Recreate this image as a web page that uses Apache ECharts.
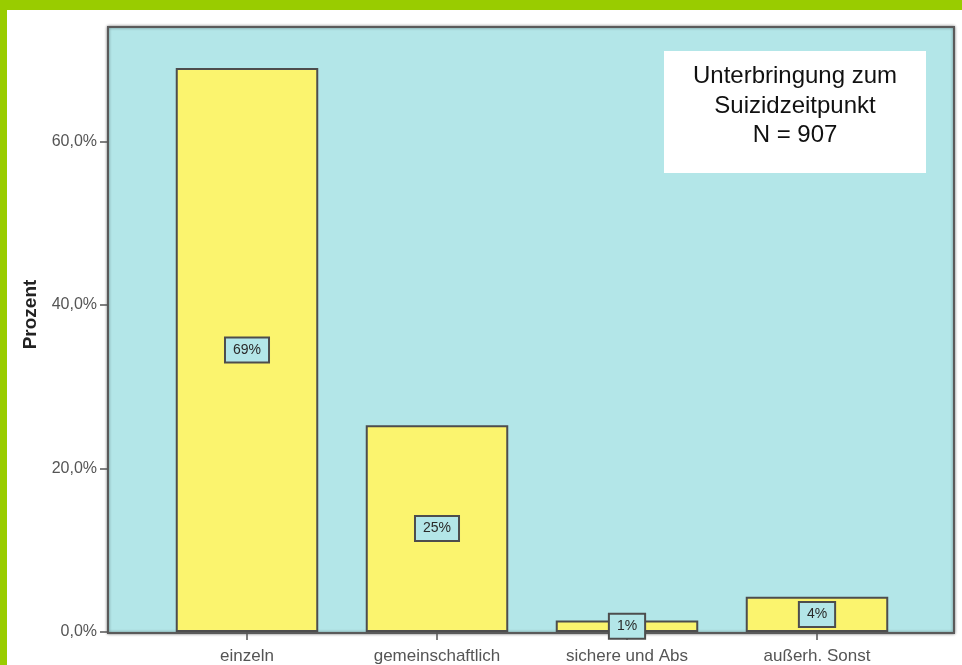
<!DOCTYPE html>
<html>
<head>
<meta charset="utf-8">
<title>Unterbringung zum Suizidzeitpunkt</title>
<script src="https://cdn.jsdelivr.net/npm/echarts@6/dist/echarts.min.js"></script>
<style>
  html, body { margin: 0; padding: 0; background: #ffffff; }
  #wrap { position: relative; width: 962px; height: 665px; overflow: hidden; }
  #chart { position: absolute; left: 0; top: 0; width: 962px; height: 665px; }
  .band { position: absolute; background: #99cc00; }
</style>
</head>
<body>
<div id="wrap">
  <div id="chart"></div>
  <div class="band" style="left:0;top:0;width:962px;height:10px"></div>
  <div class="band" style="left:0;top:0;width:7px;height:665px"></div>
</div>
<script>
// Kategorien der Unterbringung
const categories = ['einzeln', 'gemeinschaftlich', 'sichere und Abs', 'außerh. Sonst'];
// Anteil in Prozent je Kategorie
const percentValues = [69.0, 25.3, 1.4, 4.3];
// Beschriftete Skalenwerte der Prozentachse
const yTicks = [0, 20, 40, 60];
const yMax = 74;
// Legendentext
const infoLines = ['Unterbringung zum', 'Suizidzeitpunkt', 'N = 907'];

const FONT = '"Liberation Sans", Arial, sans-serif';

// Plotrahmen (Hintergrundfläche) in Pixeln
const frame = { x: 108, y: 27, w: 846, h: 606 };

const chart = echarts.init(document.getElementById('chart'), null, { renderer: 'canvas' });

const option = {
  animation: false,
  backgroundColor: '#ffffff',
  grid: { left: 152, right: 50, top: 27, bottom: 32, containLabel: false },
  graphic: [
    {
      type: 'rect',
      z: -10,
      shape: { x: frame.x, y: frame.y, width: frame.w, height: frame.h },
      style: {
        fill: '#b3e6e8',
        stroke: '#5a5a5a',
        lineWidth: 2,
        shadowBlur: 3,
        shadowColor: 'rgba(0,0,0,0.45)'
      }
    },
    {
      type: 'group',
      z: 50,
      children: [
        {
          type: 'rect',
          shape: { x: 664, y: 51, width: 262, height: 122 },
          style: { fill: '#ffffff' }
        },
        {
          type: 'text',
          x: 795,
          y: 106,
          style: {
            text: infoLines.join('\n'),
            font: '24px ' + FONT,
            fill: '#111111',
            align: 'center',
            verticalAlign: 'middle',
            lineHeight: 29.5
          }
        }
      ]
    }
  ],
  xAxis: {
    type: 'category',
    data: categories,
    axisLine: { show: false },
    axisTick: { show: true, alignWithLabel: true, length: 8, lineStyle: { color: '#555', width: 1.5 } },
    axisLabel: { margin: 16, color: '#555', fontSize: 17, fontFamily: FONT },
    splitLine: { show: false }
  },
  yAxis: {
    type: 'value',
    min: 0,
    max: yMax,
    interval: 20,
    offset: 44,
    name: 'Prozent',
    nameLocation: 'middle',
    nameRotate: 90,
    nameGap: 68,
    nameTextStyle: { fontSize: 19, fontWeight: 'bold', color: '#222', fontFamily: FONT, padding: [0, 0, 0, 30] },
    axisLine: { show: false },
    axisTick: { show: true, length: 8, customValues: yTicks, lineStyle: { color: '#555', width: 1.5 } },
    axisLabel: {
      customValues: yTicks,
      margin: 11,
      color: '#555',
      fontSize: 16,
      fontFamily: FONT,
      formatter: v => v.toFixed(1).replace('.', ',') + '%'
    },
    splitLine: { show: false }
  },
  series: [
    {
      type: 'bar',
      data: percentValues,
      barCategoryGap: '25%',
      z: 3,
      itemStyle: {
        color: '#fbf46e',
        borderColor: '#4d4d4d',
        borderWidth: 2
      },
      label: {
        show: true,
        position: 'inside',
        formatter: p => Math.round(p.value) + '%',
        fontSize: 14,
        fontFamily: FONT,
        color: '#2a2a2a',
        backgroundColor: '#b3e6e8',
        borderColor: '#4d4d4d',
        borderWidth: 2,
        padding: [5, 7, 4, 7]
      }
    }
  ]
};

chart.setOption(option);
</script>
</body>
</html>
